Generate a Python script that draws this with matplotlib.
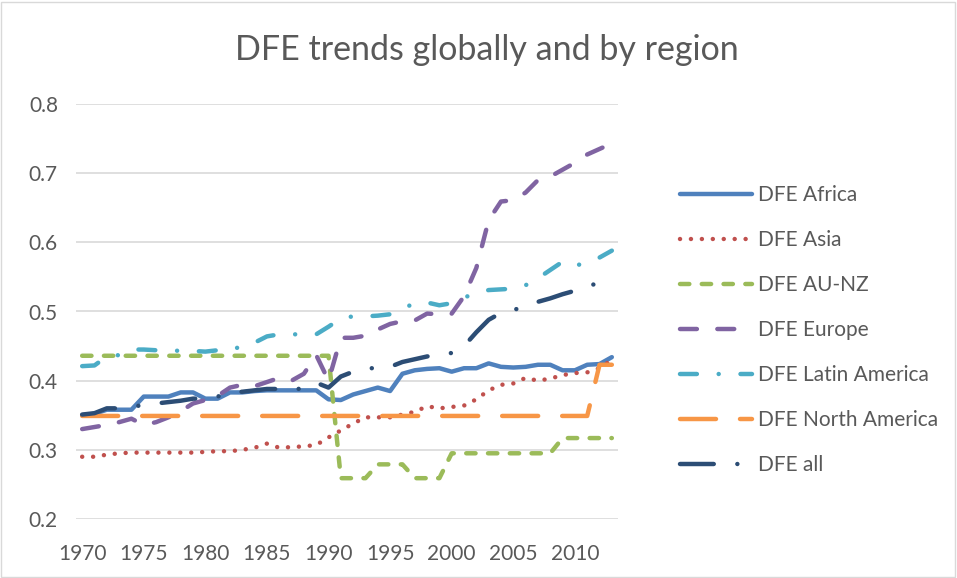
import matplotlib
matplotlib.use("Agg")
import matplotlib.pyplot as plt
from matplotlib.patches import Rectangle

years = list(range(1970, 2014))

dfe_africa = [0.350, 0.352, 0.358, 0.358, 0.358, 0.377, 0.377, 0.377, 0.383, 0.383,
              0.374, 0.374, 0.383, 0.383, 0.385, 0.386, 0.386, 0.386, 0.386, 0.386,
              0.373, 0.372, 0.380, 0.385, 0.390, 0.385, 0.410, 0.415, 0.417, 0.418,
              0.413, 0.418, 0.418, 0.425, 0.420, 0.419, 0.420, 0.423, 0.423, 0.415,
              0.415, 0.423, 0.424, 0.434]

dfe_asia = [0.290, 0.290, 0.293, 0.295, 0.296, 0.296, 0.296, 0.296, 0.296, 0.296,
            0.297, 0.298, 0.298, 0.300, 0.303, 0.309, 0.303, 0.304, 0.305, 0.307,
            0.318, 0.328, 0.338, 0.347, 0.347, 0.347, 0.351, 0.355, 0.363, 0.360,
            0.362, 0.364, 0.373, 0.386, 0.394, 0.396, 0.404, 0.400, 0.403, 0.408,
            0.411, 0.412, 0.418, 0.430]

dfe_aunz = [0.436] * 21 + [0.259, 0.259, 0.259, 0.279, 0.279, 0.279, 0.259, 0.259, 0.259,
                           0.295, 0.295, 0.295, 0.295, 0.295, 0.295, 0.295, 0.295, 0.295,
                           0.317, 0.317, 0.317, 0.317, 0.317]

dfe_europe = [0.330, 0.333, 0.336, 0.340, 0.345, 0.336, 0.340, 0.347, 0.356, 0.367,
              0.372, 0.378, 0.390, 0.394, 0.392, 0.398, 0.404, 0.400, 0.410, 0.437,
              0.400, 0.462, 0.462, 0.465, 0.474, 0.482, 0.486, 0.487, 0.497, 0.496,
              0.497, 0.522, 0.563, 0.632, 0.659, 0.661, 0.672, 0.690, 0.695, 0.705,
              0.715, 0.727, 0.735, 0.743]

dfe_latam = [0.421, 0.422, 0.435, 0.437, 0.445, 0.445, 0.444, 0.444, 0.443, 0.443,
             0.442, 0.444, 0.444, 0.450, 0.455, 0.464, 0.467, 0.467, 0.467, 0.467,
             0.478, 0.490, 0.493, 0.493, 0.494, 0.496, 0.504, 0.512, 0.513, 0.509,
             0.512, 0.520, 0.527, 0.531, 0.532, 0.533, 0.538, 0.548, 0.560, 0.572,
             0.566, 0.571, 0.578, 0.588]

dfe_namerica = [0.349] * 42 + [0.423, 0.423]

dfe_all = [0.351, 0.353, 0.360, 0.360, 0.362, 0.365, 0.367, 0.369, 0.371, 0.374,
           0.374, 0.377, 0.383, 0.384, 0.386, 0.388, 0.388, 0.387, 0.389, 0.397,
           0.390, 0.406, 0.413, 0.418, 0.418, 0.420, 0.427, 0.431, 0.435, 0.438,
           0.440, 0.450, 0.470, 0.488, 0.498, 0.502, 0.508, 0.514, 0.519, 0.525,
           0.530, 0.535, 0.543, 0.553]

labels = ["DFE Africa", "DFE Asia", "DFE AU-NZ", "DFE Europe",
          "DFE Latin America", "DFE North America", "DFE all"]
colors = ["#4F81BD", "#C0504D", "#9BBB59", "#8064A2", "#4BACC6", "#F79646", "#2C4D75"]
dash_styles = [None, (0.01, 2.45), (2.1, 2.8), (3.8, 4.6), (3.8, 4.9, 0.01, 4.9),
               (8.1, 5.4), (7.6, 5.3, 0.01, 5.3)]
series = [dfe_africa, dfe_asia, dfe_aunz, dfe_europe, dfe_latam, dfe_namerica, dfe_all]

FONT = "Lato"
TXT = "#595959"
plt.rcParams['font.family'] = [FONT, 'DejaVu Sans']

fig = plt.figure(figsize=(9.57, 5.78), dpi=100)
ax = fig.add_axes([76/957, 59/578, 542/957, 415/578])

LW = 3.2
for vals, lab, col, ds in zip(series, labels, colors, dash_styles):
    if ds is None:
        ax.plot(years, vals, color=col, lw=LW, label=lab, solid_joinstyle='round',
                solid_capstyle='round')
    else:
        ax.plot(years, vals, color=col, lw=LW, label=lab, dashes=ds,
                dash_capstyle='round', dash_joinstyle='round')

ax.set_xlim(1969.5, 2013.5)
ax.set_ylim(0.2, 0.8)
ax.set_yticks([0.2, 0.3, 0.4, 0.5, 0.6, 0.7, 0.8])
ax.set_yticklabels(["0.2", "0.3", "0.4", "0.5", "0.6", "0.7", "0.8"])
ax.set_xticks(list(range(1970, 2011, 5)))
ax.set_xticklabels([str(y) for y in range(1970, 2011, 5)])
ax.tick_params(axis='both', length=0, labelsize=15, labelcolor=TXT)
ax.tick_params(axis='y', pad=13)
ax.tick_params(axis='x', pad=18)
ax.grid(axis='y', color="#D9D9D9", lw=1.2)
ax.set_axisbelow(True)
for s in ax.spines.values():
    s.set_visible(False)

fig.text(487/957, 1 - 50/578, "DFE trends globally and by region", ha='center',
         va='center', fontsize=24.5, color=TXT)

leg = fig.legend(loc='upper left', bbox_to_anchor=(672/957, 1 - 177/578),
                 frameon=False, fontsize=15, handlelength=3.45, handletextpad=0.3,
                 labelspacing=1.2, borderaxespad=0)
for t in leg.get_texts():
    t.set_color(TXT)

fig.patches.append(Rectangle((0.001, 0.002), 0.997, 0.995, transform=fig.transFigure,
                             fill=False, edgecolor="#D9D9D9", lw=1))

fig.savefig("out.png", dpi=100, facecolor="white")
